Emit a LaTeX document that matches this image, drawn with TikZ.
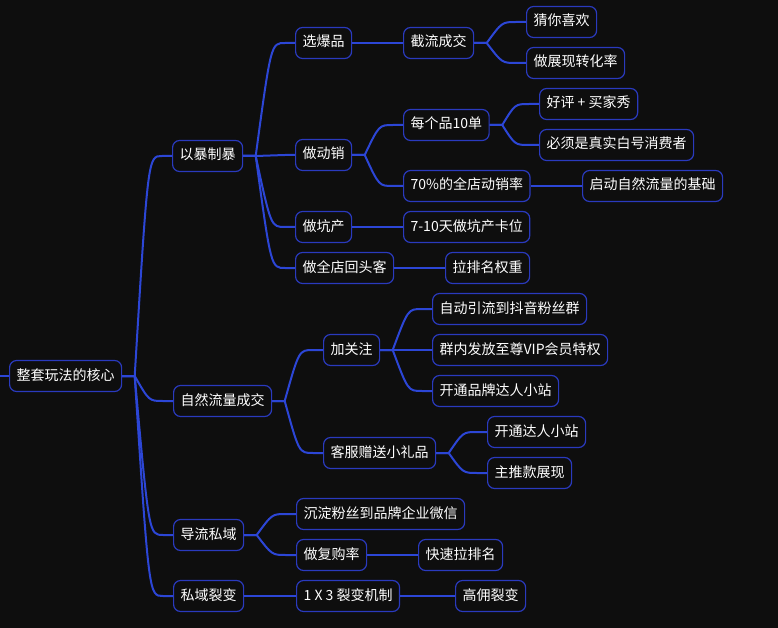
\documentclass[tikz,border=0pt]{standalone}
\usepackage{fontspec}
\setmainfont{Noto Sans CJK SC}
\usetikzlibrary{calc}

\definecolor{bg}{RGB}{14,14,14}
\definecolor{boxline}{RGB}{42,58,190}
\definecolor{wire}{RGB}{44,70,214}

\begin{document}
\begin{tikzpicture}[x=1pt, y=-1pt,
	box/.style={draw=boxline, fill=bg, line width=1.2pt, rounded corners=7pt,
		text=white, anchor=west, minimum height=31pt, inner xsep=7pt,
		text height=10.5pt, text depth=2.5pt, font=\fontsize{14}{16}\selectfont},
	link/.style={draw=wire, line width=2pt,
		to path={.. controls ($(\tikztotarget.west)+(-24,0)$) .. ($(\tikztotarget.west)+(-10,0)$) -- (\tikztotarget.west)}}]

	\useasboundingbox (0,0) rectangle (778,628);
	\fill[bg] (-6,-6) rectangle (784,634);

	% root and first level
	\node[box] (root) at (9,376) {整套玩法的核心};
	\node[box] (baozhi) at (172,156) {以暴制暴};
	\node[box] (ziran) at (173,401) {自然流量成交};
	\node[box] (daoliu) at (173,535) {导流私域};
	\node[box] (liebian) at (173,596) {私域裂变};

	% 以暴制暴
	\node[box] (baopin) at (295,43) {选爆品};
	\node[box] (dongxiao) at (295,155) {做动销};
	\node[box] (kengchan) at (295,227) {做坑产};
	\node[box] (huitouke) at (295,268) {做全店回头客};
	\node[box] (jieliu) at (403,43) {截流成交};
	\node[box] (cainixihuan) at (526,22) {猜你喜欢};
	\node[box] (zhanxian) at (526,63) {做展现转化率};
	\node[box] (shidan) at (403,125) {每个品10单};
	\node[box] (haoping) at (539,104) {好评 + 买家秀};
	\node[box] (baihao) at (539,145) {必须是真实白号消费者};
	\node[box] (dongxiaolv) at (403,186) {70\%的全店动销率};
	\node[box] (jichu) at (582,186) {启动自然流量的基础};
	\node[box] (kawei) at (403,227) {7-10天做坑产卡位};
	\node[box] (quanzhong) at (445,268) {拉排名权重};

	% 自然流量成交
	\node[box] (guanzhu) at (323,350) {加关注};
	\node[box] (fensiqun) at (432,309) {自动引流到抖音粉丝群};
	\node[box] (tequan) at (432,350) {群内发放至尊VIP会员特权};
	\node[box] (pinpai) at (432,391) {开通品牌达人小站};
	\node[box] (lipin) at (323,453) {客服赠送小礼品};
	\node[box] (daren) at (487,432) {开通达人小站};
	\node[box] (zhutui) at (487,473) {主推款展现};

	% 导流私域 / 私域裂变
	\node[box] (weixin) at (296,514) {沉淀粉丝到品牌企业微信};
	\node[box] (fugou) at (296,555) {做复购率};
	\node[box] (paiming) at (418,555) {快速拉排名};
	\node[box] (jizhi) at (296,596) {1 X 3 裂变机制};
	\node[box] (gaoyong) at (455,596) {高佣裂变};

	% connectors
	\coordinate (in) at (0,376);
	\draw[link] (in) -- (root.west);
	\foreach \a/\b in {root/baozhi, root/ziran, root/daoliu, root/liebian,
		baozhi/baopin, baozhi/dongxiao, baozhi/kengchan, baozhi/huitouke,
		baopin/jieliu, jieliu/cainixihuan, jieliu/zhanxian,
		dongxiao/shidan, dongxiao/dongxiaolv, shidan/haoping, shidan/baihao,
		dongxiaolv/jichu, kengchan/kawei, huitouke/quanzhong,
		ziran/guanzhu, ziran/lipin, guanzhu/fensiqun, guanzhu/tequan, guanzhu/pinpai,
		lipin/daren, lipin/zhutui,
		daoliu/weixin, daoliu/fugou, fugou/paiming,
		liebian/jizhi, jizhi/gaoyong}
		\draw[link] (\a.east) -- ++(12.5,0) to (\b);
\end{tikzpicture}
\end{document}
